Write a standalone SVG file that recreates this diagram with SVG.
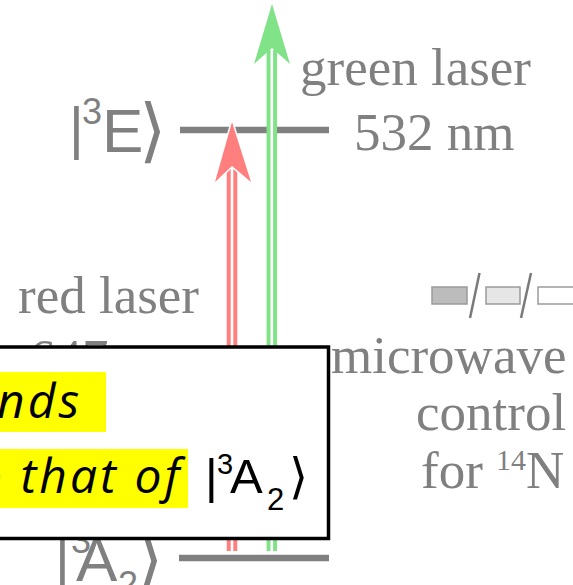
<svg xmlns="http://www.w3.org/2000/svg" width="573" height="585" viewBox="0 0 573 585">
  <style>
    .bar { stroke: #808080; stroke-width: 6.5; fill: none; }
    .serif { font-family: "Liberation Serif", "Times New Roman", serif; font-size: 53px; fill: #808080; }
    .ket { font-family: "Liberation Sans", Arial, "DejaVu Sans", sans-serif; fill: #808080; }
    .ketb { font-family: "Liberation Sans", Arial, "DejaVu Sans", sans-serif; fill: #000000; }
    .note { font-family: "Open Sans", "Noto Sans", sans-serif; font-style: italic; font-size: 48px; letter-spacing: 3px; fill: #000000; }
    .hl { fill: #ffff00; }
    .red-shaft { stroke: #ff7f7f; stroke-width: 10.5; }
    .green-shaft { stroke: #80e388; stroke-width: 10.5; }
    .gap { stroke: #ffffff; stroke-width: 2.6; }
    .mwicon { stroke: #9a9a9a; stroke-width: 1.5; }
    .slash { stroke: #7a7a7a; stroke-width: 2.5; }
  </style>

  <g id="level-3E">
    <line class="bar" x1="180" y1="130" x2="329" y2="130"/>
    <text class="ket" font-size="62"><tspan x="69" y="148" font-size="57">|</tspan><tspan x="82" y="124" font-size="36">3</tspan><tspan x="102" y="152">E</tspan><tspan x="139" y="154" font-size="70">⟩</tspan></text>
  </g>

  <g id="level-3A2">
    <line class="bar" x1="179" y1="558" x2="329" y2="558"/>
    <text class="ket" font-size="62"><tspan x="55" y="577" font-size="57">|</tspan><tspan x="71" y="553" font-size="36">3</tspan><tspan x="76" y="581">A</tspan><tspan x="118" y="597" font-size="36">2</tspan><tspan x="136" y="583" font-size="70">⟩</tspan></text>
  </g>

  <g id="connectors">
    <g id="red-arrow">
      <line class="red-shaft" x1="232" y1="551" x2="232" y2="168"/>
      <line class="gap" x1="232" y1="551" x2="232" y2="168"/>
      <path d="M232,122 L251,182 L232,166 L215,182 Z" fill="#ff7f7f" stroke="#ffffff" stroke-width="3" paint-order="stroke"/>
    </g>
    <g id="green-arrow">
      <line class="green-shaft" x1="271.8" y1="551" x2="271.8" y2="50"/>
      <line class="gap" x1="271.8" y1="551" x2="271.8" y2="50"/>
      <path d="M272,4 L290,64 L272,48 L254,64 Z" fill="#80e388"/>
    </g>
  </g>

  <g id="green-laser-label">
    <text class="serif" x="300" y="85">green laser</text>
    <text class="serif" x="354" y="150">532 nm</text>
  </g>

  <g id="red-laser-label">
    <text class="serif" x="18" y="313">red laser</text>
    <text class="serif" x="29" y="376">647 nm</text>
  </g>

  <g id="microwave-icons">
    <rect class="mwicon" x="432" y="287" width="35" height="17" fill="#bcbcbc"/>
    <line class="slash" x1="479.5" y1="273" x2="470" y2="318"/>
    <rect class="mwicon" x="486" y="287" width="34" height="17" fill="#e6e6e6"/>
    <line class="slash" x1="531" y1="273" x2="521" y2="318"/>
    <rect class="mwicon" x="538" y="287" width="40" height="17" fill="#ffffff"/>
  </g>

  <g id="note-box">
    <rect x="-10" y="347" width="338.5" height="191.5" fill="#ffffff" stroke="#000000" stroke-width="3.5"/>
    <rect class="hl" x="0" y="372" width="106" height="60"/>
    <rect class="hl" x="0" y="449" width="188" height="59"/>
    <text class="note" x="-3" y="418">nds</text>
    <text class="note" x="-25" y="493">o that of</text>
    <text class="ketb" font-size="49"><tspan x="205" y="493">|</tspan><tspan x="217" y="474" font-size="29">3</tspan><tspan x="230" y="493">A</tspan><tspan x="267" y="510" font-size="31">2</tspan><tspan x="289" y="493">⟩</tspan></text>
  </g>

  <g id="microwave-label">
    <text class="serif" x="331" y="373">microwave</text>
    <text class="serif" x="416" y="430">control</text>
    <text class="serif" x="421" y="488">for <tspan font-size="30" dy="-18">14</tspan><tspan dy="18">N</tspan></text>
  </g>
</svg>
